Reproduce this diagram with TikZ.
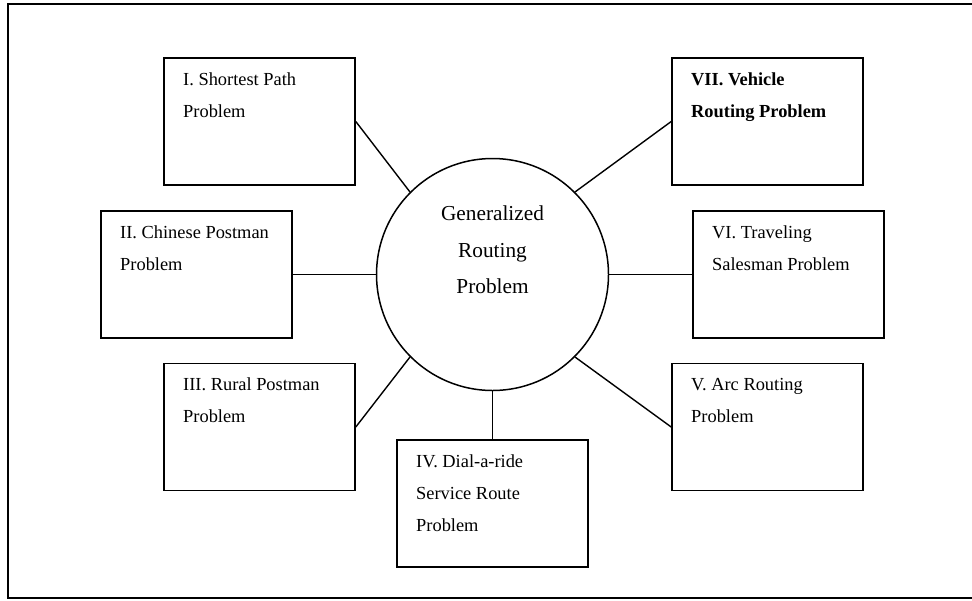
\documentclass[tikz,border=0pt]{standalone}
\usepackage{fontspec}
\setmainfont{Liberation Serif}
\begin{document}
\begin{tikzpicture}[x=1pt,y=-1pt,
  pbox/.style={draw,line width=1.6pt,rectangle,inner sep=0pt},
  lbl/.style={anchor=base west,inner sep=0pt,font=\fontsize{18.4}{22}\selectfont},
  clbl/.style={anchor=base,inner sep=0pt,font=\fontsize{21.3}{25}\selectfont},
  conn/.style={line width=1.4pt}]
\useasboundingbox (0,0) rectangle (972,600);
\draw[line width=1.8pt] (980,4) -- (8,4) -- (8,598) -- (980,598);
% circle
\node[draw,circle,line width=1.5pt,minimum size=232pt,inner sep=0pt] (c) at (492.5,274.5) {};
\node[clbl] (c1) at (492.5,220) {Generalized};
\node[clbl] (c2) at (492.5,257) {Routing};
\node[clbl] (c3) at (492.5,293) {Problem};
% boxes
\node[pbox,minimum width=191pt,minimum height=127pt] (b1) at (259.5,121.5) {};
\node[pbox,minimum width=191pt,minimum height=127pt] (b2) at (196.5,274.5) {};
\node[pbox,minimum width=191pt,minimum height=127pt] (b3) at (259.5,427) {};
\node[pbox,minimum width=191pt,minimum height=127pt] (b4) at (492.5,503.5) {};
\node[pbox,minimum width=191pt,minimum height=127pt] (b5) at (767.5,427) {};
\node[pbox,minimum width=191pt,minimum height=127pt] (b6) at (788.5,274.5) {};
\node[pbox,minimum width=191pt,minimum height=127pt] (b7) at (767.5,121.5) {};
% texts
\node[lbl] (t1a) at (183,85) {I. Shortest Path};
\node[lbl] (t1b) at (183,117) {Problem};
\node[lbl] (t2a) at (120,238) {II. Chinese Postman};
\node[lbl] (t2b) at (120,270) {Problem};
\node[lbl] (t3a) at (183,390) {III. Rural Postman};
\node[lbl] (t3b) at (183,422) {Problem};
\node[lbl] (t4a) at (416,467) {IV. Dial-a-ride};
\node[lbl] (t4b) at (416,499) {Service Route};
\node[lbl] (t4c) at (416,531) {Problem};
\node[lbl] (t5a) at (691,390) {V. Arc Routing};
\node[lbl] (t5b) at (691,422) {Problem};
\node[lbl] (t6a) at (712,238) {VI. Traveling};
\node[lbl] (t6b) at (712,270) {Salesman Problem};
\node[lbl,font=\fontsize{18.4}{22}\selectfont\bfseries] (t7a) at (691,85) {VII. Vehicle};
\node[lbl,font=\fontsize{18.4}{22}\selectfont\bfseries] (t7b) at (691,117) {Routing Problem};
% connectors
\draw[conn] (b1.east) -- (c.135);
\draw[conn] (b2.east) -- (c.west);
\draw[conn] (b3.east) -- (c.225);
\draw[conn] (c.south) -- (b4.north);
\draw[conn] (c.-45) -- (b5.west);
\draw[conn] (c.east) -- (b6.west);
\draw[conn] (c.45) -- (b7.west);
\end{tikzpicture}
\end{document}
